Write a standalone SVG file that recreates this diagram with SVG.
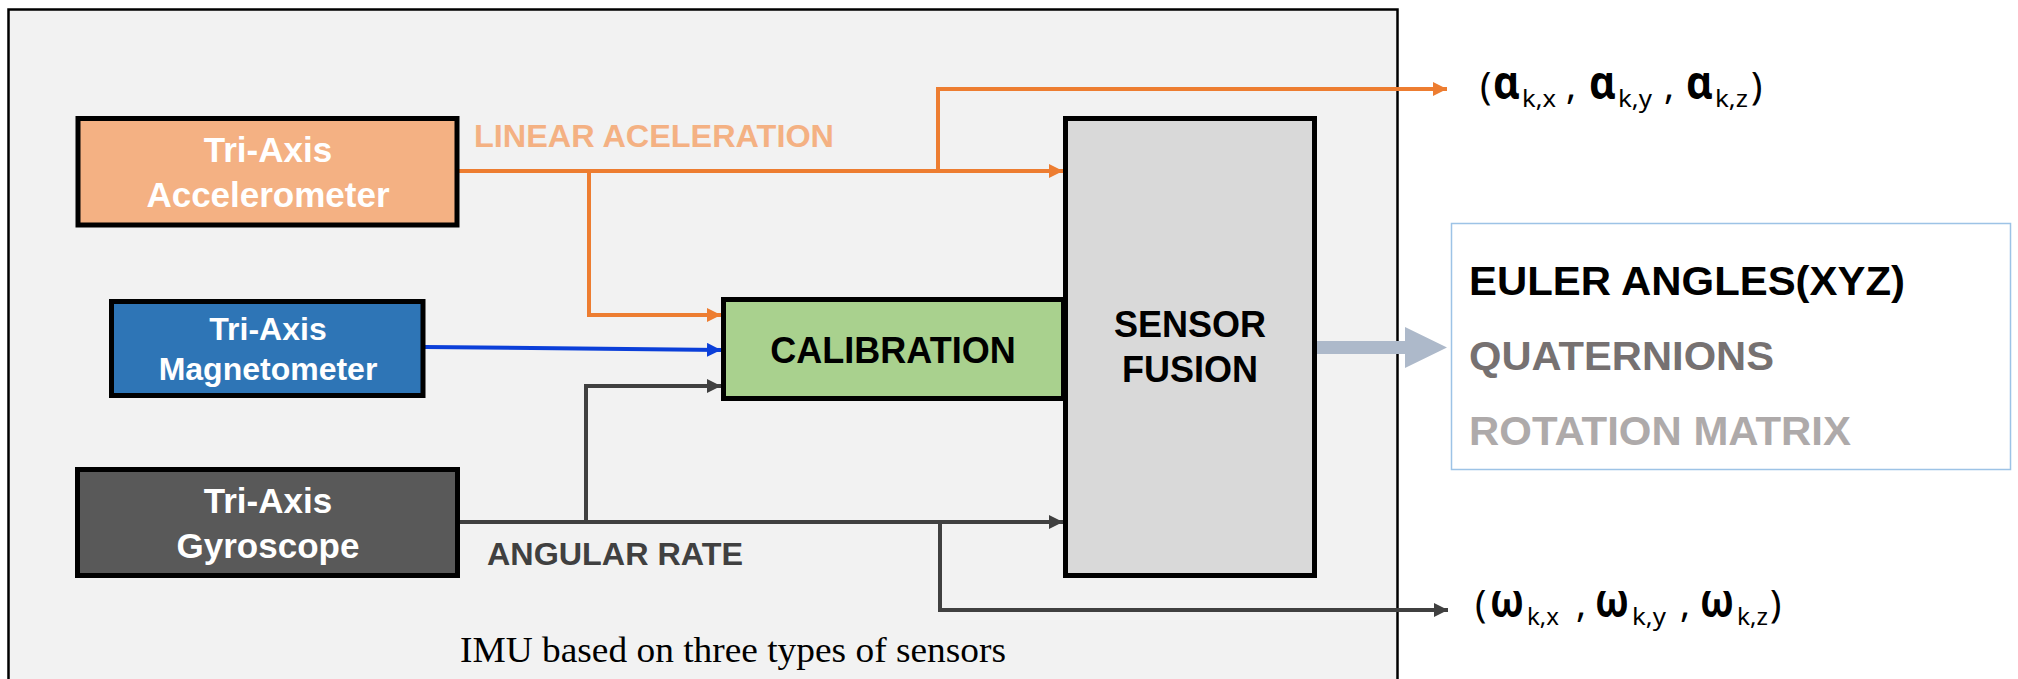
<svg xmlns="http://www.w3.org/2000/svg" width="2018" height="679" viewBox="0 0 2018 679">
<style>
.node{stroke:#000;stroke-width:5}
.nt{font-family:"Liberation Sans",Arial,sans-serif;font-weight:bold;text-anchor:middle}
.lbl{font-family:"Liberation Sans",Arial,sans-serif;font-weight:bold}
.conn{fill:none;stroke-width:4}
.math{font-family:"Noto Sans","Liberation Sans",sans-serif;fill:#000}
.gk{font-weight:bold;font-size:46px}
</style>
<defs>
<marker id="aO" markerUnits="userSpaceOnUse" markerWidth="16" markerHeight="16" refX="14" refY="7" orient="auto"><path d="M0,0 L14,7 L0,14 z" fill="#ed7d31"/></marker>
<marker id="aG" markerUnits="userSpaceOnUse" markerWidth="16" markerHeight="16" refX="14" refY="7" orient="auto"><path d="M0,0 L14,7 L0,14 z" fill="#404040"/></marker>
<marker id="aB" markerUnits="userSpaceOnUse" markerWidth="16" markerHeight="16" refX="14" refY="7" orient="auto"><path d="M0,0 L14,7 L0,14 z" fill="#0b3fd9"/></marker>
</defs>
<rect width="2018" height="679" fill="#fff"/>
<g id="imu-frame">
<rect x="8.5" y="9.5" width="1389" height="700" fill="#f2f2f2" stroke="#000" stroke-width="2.5"/>
<text x="460" y="662" font-family="'Liberation Serif','Times New Roman',serif" font-size="36" textLength="546" lengthAdjust="spacingAndGlyphs" fill="#000">IMU based on three types of sensors</text>
</g>
<g id="connectors">
<polyline class="conn" stroke="#ed7d31" points="459,171 1063,171" marker-end="url(#aO)"/>
<polyline class="conn" stroke="#ed7d31" points="589,171 589,315 721,315" marker-end="url(#aO)"/>
<polyline class="conn" stroke="#ed7d31" points="938,171 938,89 1447,89" marker-end="url(#aO)"/>
<polyline class="conn" stroke="#0b3fd9" points="425,347 721,350" marker-end="url(#aB)"/>
<polyline class="conn" stroke="#404040" points="459,522 1063,522" marker-end="url(#aG)"/>
<polyline class="conn" stroke="#404040" points="586,522 586,386 721,386" marker-end="url(#aG)"/>
<polyline class="conn" stroke="#404040" points="940,522 940,610 1448,610" marker-end="url(#aG)"/>
<polygon points="1317,341 1405,341 1405,327 1447,347.5 1405,368 1405,354 1317,354" fill="#adb9ca"/>
<text class="lbl" x="474" y="147" font-size="31" fill="#f4b183" textLength="360" lengthAdjust="spacingAndGlyphs">LINEAR ACELERATION</text>
<text class="lbl" x="487" y="565" font-size="31" fill="#404040" textLength="256" lengthAdjust="spacingAndGlyphs">ANGULAR RATE</text>
</g>
<g id="accelerometer">
<rect class="node" x="78" y="118.5" width="379" height="106.5" fill="#f4b183"/>
<text class="nt" x="268" y="162" font-size="35" fill="#fff">Tri-Axis</text>
<text class="nt" x="268" y="207" font-size="35" fill="#fff">Accelerometer</text>
</g>
<g id="magnetometer">
<rect class="node" x="111.5" y="301.5" width="311.5" height="94" fill="#2e75b6"/>
<text class="nt" x="268" y="340" font-size="32" fill="#fff">Tri-Axis</text>
<text class="nt" x="268" y="380" font-size="32" fill="#fff">Magnetometer</text>
</g>
<g id="gyroscope">
<rect class="node" x="77.5" y="469.5" width="380" height="106" fill="#595959"/>
<text class="nt" x="268" y="513" font-size="35" fill="#fff">Tri-Axis</text>
<text class="nt" x="268" y="558" font-size="35" fill="#fff">Gyroscope</text>
</g>
<g id="calibration">
<rect class="node" x="723.5" y="299.5" width="340" height="99" fill="#a9d18e"/>
<text class="nt" x="893" y="363" font-size="36" fill="#000">CALIBRATION</text>
</g>
<g id="sensor-fusion">
<rect class="node" x="1065.5" y="118.5" width="249" height="457" fill="#d9d9d9"/>
<text class="nt" x="1190" y="337" font-size="36" fill="#000">SENSOR</text>
<text class="nt" x="1190" y="382" font-size="36" fill="#000">FUSION</text>
</g>
<g id="orientation-outputs">
<rect x="1451.5" y="223.5" width="559" height="246" fill="#fff" stroke="#9dc3e6" stroke-width="1.5"/>
<text class="lbl" x="1469" y="295" font-size="40" fill="#000" textLength="436" lengthAdjust="spacingAndGlyphs">EULER ANGLES(XYZ)</text>
<text class="lbl" x="1469" y="370" font-size="40" fill="#767171" textLength="305" lengthAdjust="spacingAndGlyphs">QUATERNIONS</text>
<text class="lbl" x="1469" y="445" font-size="40" fill="#aeaaaa" textLength="382" lengthAdjust="spacingAndGlyphs">ROTATION MATRIX</text>
</g>
<g id="accel-output">
<text class="math" font-size="38"><tspan x="1480" y="99">(</tspan><tspan class="gk" x="1493" y="99" textLength="27" lengthAdjust="spacingAndGlyphs">α</tspan><tspan x="1522" y="107" font-size="24" textLength="34" lengthAdjust="spacingAndGlyphs">k,x</tspan><tspan x="1566" y="99">,</tspan><tspan class="gk" x="1589" y="99" textLength="27" lengthAdjust="spacingAndGlyphs">α</tspan><tspan x="1618" y="107" font-size="24" textLength="34" lengthAdjust="spacingAndGlyphs">k,y</tspan><tspan x="1664" y="99">,</tspan><tspan class="gk" x="1686" y="99" textLength="27" lengthAdjust="spacingAndGlyphs">α</tspan><tspan x="1715" y="107" font-size="24" textLength="33" lengthAdjust="spacingAndGlyphs">k,z</tspan><tspan x="1751" y="99">)</tspan></text>
</g>
<g id="gyro-output">
<text class="math" font-size="38"><tspan x="1475" y="617">(</tspan><tspan class="gk" x="1490" y="617" textLength="34" lengthAdjust="spacingAndGlyphs">ω</tspan><tspan x="1527" y="625" font-size="24" textLength="32" lengthAdjust="spacingAndGlyphs">k,x</tspan><tspan x="1576" y="617">,</tspan><tspan class="gk" x="1595" y="617" textLength="34" lengthAdjust="spacingAndGlyphs">ω</tspan><tspan x="1632" y="625" font-size="24" textLength="34" lengthAdjust="spacingAndGlyphs">k,y</tspan><tspan x="1680" y="617">,</tspan><tspan class="gk" x="1700" y="617" textLength="34" lengthAdjust="spacingAndGlyphs">ω</tspan><tspan x="1737" y="625" font-size="24" textLength="31" lengthAdjust="spacingAndGlyphs">k,z</tspan><tspan x="1770" y="617">)</tspan></text>
</g>
</svg>
